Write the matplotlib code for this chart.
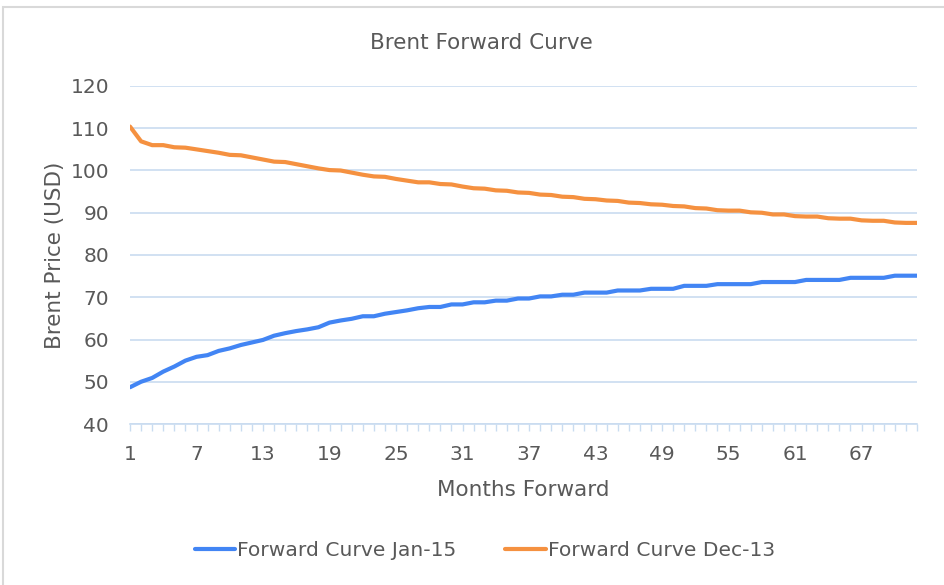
import numpy as np
import matplotlib
matplotlib.use("Agg")
import matplotlib.pyplot as plt
from matplotlib.patches import Rectangle
from matplotlib.ticker import MultipleLocator

plt.rcParams['font.family'] = ['DejaVu Sans Condensed', 'Liberation Sans Narrow', 'DejaVu Sans']

months = list(range(1, 73))

# Forward Curve Jan-15
jan15 = [48.7, 50.0, 50.9, 52.4, 53.6, 55.0, 55.9, 56.3, 57.3, 57.9,
         58.7, 59.3, 59.9, 60.9, 61.5, 62.0, 62.4, 62.9, 64.0, 64.5,
         64.9, 65.5, 65.5, 66.1, 66.5, 66.9, 67.4, 67.7, 67.7, 68.3,
         68.3, 68.8, 68.8, 69.2, 69.2, 69.7, 69.7, 70.2, 70.2, 70.6,
         70.6, 71.1, 71.1, 71.1, 71.6, 71.6, 71.6, 72.0, 72.0, 72.0,
         72.7, 72.7, 72.7, 73.1, 73.1, 73.1, 73.1, 73.6, 73.6, 73.6,
         73.6, 74.1, 74.1, 74.1, 74.1, 74.6, 74.6, 74.6, 74.6, 75.1,
         75.1, 75.1]

# Forward Curve Dec-13
dec13 = [110.4, 106.9, 106.0, 106.0, 105.5, 105.4, 105.0, 104.6, 104.2, 103.7,
         103.6, 103.1, 102.6, 102.1, 102.0, 101.5, 101.0, 100.5, 100.1, 100.0,
         99.5, 99.0, 98.6, 98.5, 98.0, 97.6, 97.2, 97.2, 96.8, 96.7,
         96.2, 95.8, 95.7, 95.3, 95.2, 94.8, 94.7, 94.3, 94.2, 93.8,
         93.7, 93.3, 93.2, 92.9, 92.8, 92.4, 92.3, 92.0, 91.9, 91.6,
         91.5, 91.1, 91.0, 90.6, 90.5, 90.5, 90.1, 90.0, 89.6, 89.6,
         89.2, 89.1, 89.1, 88.7, 88.6, 88.6, 88.2, 88.1, 88.1, 87.7,
         87.6, 87.6]

labels = ["Forward Curve Jan-15", "Forward Curve Dec-13"]
colors = ["#4285f4", "#f59140"]
text_col = "#595959"
grid_col = "#c9dcf0"

fig = plt.figure(figsize=(9.45, 5.85), dpi=100)
fig.patches.append(Rectangle((3/945, -0.1), 1.1, 1 - 7/585 + 0.1, transform=fig.transFigure,
                             fill=False, edgecolor="#d9d9d9", linewidth=1.5))

ax = fig.add_axes([130/945, 1 - 424/585, (917 - 130)/945, (424 - 86)/585])

ax.plot(months, jan15, color=colors[0], linewidth=3, label=labels[0], solid_capstyle="round")
ax.plot(months, dec13, color=colors[1], linewidth=3, label=labels[1], solid_capstyle="round")

ax.set_xlim(1, 72)
ax.set_ylim(40, 120)
ax.set_yticks(range(40, 121, 10))
ax.set_xticks(range(1, 72, 6))
ax.xaxis.set_minor_locator(MultipleLocator(1))
ax.grid(axis="y", color=grid_col, linewidth=1.2)
ax.set_axisbelow(True)

for s in ["top", "right", "left"]:
    ax.spines[s].set_visible(False)
ax.spines["bottom"].set_color(grid_col)
ax.spines["bottom"].set_linewidth(1.2)

ax.tick_params(axis="y", length=0, pad=15, labelsize=14.5, labelcolor=text_col)
ax.tick_params(axis="x", which="both", direction="out", length=5, color=grid_col,
               width=1, pad=10, labelsize=14.5, labelcolor=text_col)

fig.text(481/945, 1 - 43/585, "Brent Forward Curve", fontsize=15.5, color=text_col,
         ha="center", va="center")
ax.set_xlabel("Months Forward", fontsize=15.5, color=text_col, labelpad=12)
ax.set_ylabel("Brent Price (USD)", fontsize=15.5, color=text_col, labelpad=4)

fig.legend(loc="center", bbox_to_anchor=(485/945, 1 - 551/585), ncol=2, frameon=False,
           fontsize=14.6, handlelength=2.0, handletextpad=0.1, columnspacing=2.4,
           labelcolor=text_col)

fig.savefig("out.png", dpi=100)
